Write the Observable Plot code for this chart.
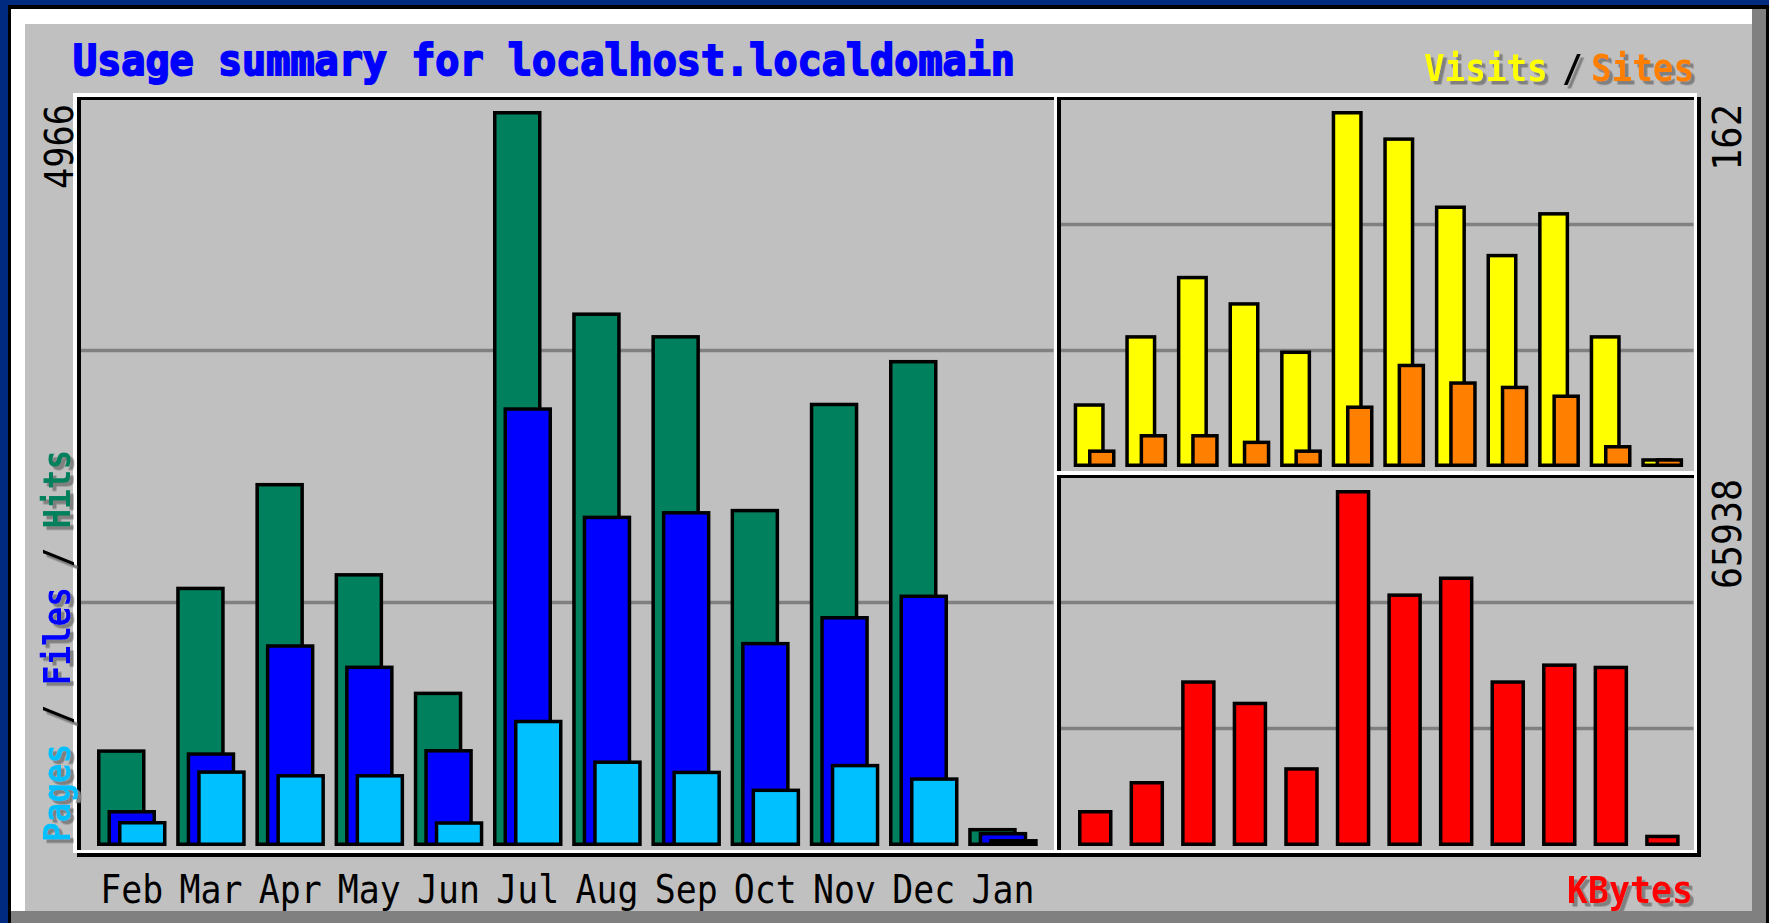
<!DOCTYPE html>
<html>
<head>
<meta charset="utf-8">
<script src="https://cdn.jsdelivr.net/npm/d3@7"></script>
<script src="https://cdn.jsdelivr.net/npm/@observablehq/plot@0.6"></script>
<style>
html, body { margin: 0; padding: 0; background: #002a80; }
#stage { position: relative; width: 1769px; height: 923px; overflow: hidden; background: #002a80; }
#stage > * { position: absolute; }
</style>
</head>
<body>
<div id="stage"></div>
<script>
// ---------------- data ----------------
const months = ["Feb", "Mar", "Apr", "May", "Jun", "Jul", "Aug", "Sep", "Oct", "Nov", "Dec", "Jan"];
const hits   = [653, 1752, 2453, 1844, 1043, 4966, 3605, 3452, 2278, 2995, 3284, 122];
const files  = [243, 633, 1363, 1219, 655, 2964, 2232, 2263, 1379, 1554, 1699, 95];
const pages  = [169, 511, 486, 486, 167, 853, 578, 509, 388, 555, 464, 47];
const visits = [29, 60, 87, 75, 53, 162, 150, 119, 97, 116, 60, 4];
const sites  = [8, 15, 15, 12, 8, 28, 47, 39, 37, 33, 10, 4];
const kbytes = [6668, 12039, 30690, 26727, 14595, 65938, 46786, 49917, 30690, 33821, 33395, 2093];
const gridTicks = [1, 2];

const titleText = "Usage summary for localhost.localdomain";

// ---------------- styling ----------------
const C = {
  hits: "#00805c", files: "#0000ff", pages: "#00c0ff",
  visits: "#ffff00", sites: "#ff8000", kbytes: "#ff0000",
  bg: "#c0c0c0", grid: "#808080", shadow: "#808080", dark: "#808080"
};
const W = 1769, H = 923;
const stage = document.getElementById("stage");
const table = months.map((m, i) => ({
  month: m, hits: hits[i], files: files[i], pages: pages[i],
  visits: visits[i], sites: sites[i], kbytes: kbytes[i]
}));

function box(x, y, w, h, color) {
  const d = document.createElement("div");
  d.style.cssText = `left:${x}px;top:${y}px;width:${w}px;height:${h}px;background:${color};`;
  stage.appendChild(d);
}
function addSvg(svg) {
  svg.style.position = "absolute";
  svg.style.left = "0px";
  svg.style.top = "0px";
  svg.style.maxWidth = "none";
  stage.appendChild(svg);
  return svg;
}

// ---------------- window bevel ----------------
box(8, 5, W - 8, H - 5, "#000");
box(11, 9, W - 14, H - 9, C.dark);
box(11, 9, 1741, 15, "#fff");
box(11, 9, 14, 902, "#fff");
box(25, 24, 1727, 887, C.bg);

// ---------------- grid lines (thirds of each panel) ----------------
function gridPlot(x0, x1, yTop, yBottom) {
  return Plot.plot({
    width: W, height: H,
    marginLeft: x0, marginRight: W - x1, marginTop: yTop, marginBottom: H - yBottom,
    style: {background: "transparent"},
    x: {axis: null},
    y: {domain: [0, 3], axis: null},
    marks: [Plot.ruleY(gridTicks, {stroke: C.grid, strokeWidth: 3.5})]
  });
}
addSvg(gridPlot(80.5, 1053.5, 98, 854));
addSvg(gridPlot(1060.5, 1693.5, 98, 476));
addSvg(gridPlot(1060.5, 1693.5, 476, 854));

// ---------------- panel frames ----------------
const T = 3.5;
// black
box(77, 96.5, 1623.5, T, "#000");
box(77, 853, 1623.5, T, "#000");
box(77, 96.5, T, 760, "#000");
box(1697, 96.5, T, 760, "#000");
box(1057, 96.5, T, 760, "#000");
box(1057, 474.5, 643.5, T, "#000");
// white
box(73, 93, 1624, T, "#fff");
box(73, 849.5, 1624, T, "#fff");
box(73, 93, T, 760, "#fff");
box(1693.5, 93, T, 760, "#fff");
box(1053.5, 93, T, 760, "#fff");
box(1053.5, 471, 643.5, T, "#fff");

// ---------------- bars ----------------
const barStyle = {stroke: "#000", strokeWidth: 3.5, inset: 1.75};

// main panel: hits / files / pages
const mainPad = 0.3876, mainStep = 79.2, mainX0 = 97;
const mainPlot = Plot.plot({
  width: W, height: H,
  marginTop: 0, marginLeft: 0, marginRight: 0, marginBottom: H - 875,
  style: {background: "transparent", color: "#000", overflow: "visible"},
  x: {type: "band", domain: months, range: [mainX0, mainX0 + mainStep * (months.length - mainPad)],
      paddingInner: mainPad, paddingOuter: 0, align: 0, round: false},
  y: {domain: [0, d3.max(hits)], range: [846, 111], axis: null},
  marks: [
    Plot.barY(table, {x: "month", y: "hits", fill: C.hits, ...barStyle}),
    Plot.barY(table, {x: "month", y: "files", fill: C.files, ...barStyle, dx: 10.5}),
    Plot.barY(table, {x: "month", y: "pages", fill: C.pages, ...barStyle, dx: 21}),
    Plot.axisX({anchor: "bottom", tickSize: 0, tickPadding: 0, label: null,
                fontSize: 38.4, fontFamily: "DejaVu Sans Mono", dx: 10})
  ]
});
mainPlot.querySelectorAll("text").forEach(t => {
  t.setAttribute("textLength", 63);
  t.setAttribute("lengthAdjust", "spacingAndGlyphs");
  t.setAttribute("font-family", "DejaVu Sans Mono");
});
addSvg(mainPlot);

// visits / sites panel
const vPad = 0.399, vStep = 51.6, vX0 = 1073.7;
addSvg(Plot.plot({
  width: W, height: H, margin: 0,
  style: {background: "transparent", overflow: "visible"},
  x: {type: "band", domain: months, range: [vX0, vX0 + vStep * (months.length - vPad)],
      paddingInner: vPad, paddingOuter: 0, align: 0, round: false, axis: null},
  y: {domain: [0, d3.max(visits)], range: [467, 111], axis: null},
  marks: [
    Plot.barY(table, {x: "month", y: "visits", fill: C.visits, ...barStyle}),
    Plot.barY(table, {x: "month", y: "sites", fill: C.sites, stroke: "#000", strokeWidth: 3.5,
                      insetLeft: 1.75, insetTop: 1.75, insetBottom: 1.75, insetRight: 5.25, dx: 14.3})
  ]
}));

// kbytes panel
const kPad = 0.331, kStep = 51.56, kX0 = 1078;
addSvg(Plot.plot({
  width: W, height: H, margin: 0,
  style: {background: "transparent", overflow: "visible"},
  x: {type: "band", domain: months, range: [kX0, kX0 + kStep * (months.length - kPad)],
      paddingInner: kPad, paddingOuter: 0, align: 0, round: false, axis: null},
  y: {domain: [0, d3.max(kbytes)], range: [846, 490], axis: null},
  marks: [
    Plot.barY(table, {x: "month", y: "kbytes", fill: C.kbytes, ...barStyle})
  ]
}));

// ---------------- texts ----------------
const tsvg = d3.create("svg").attr("width", W).attr("height", H)
  .attr("font-family", "DejaVu Sans Mono");
const defs = tsvg.append("defs");
// hard grey drop shadow, one screen unit right and down (local axes differ when rotated)
defs.append("filter").attr("id", "shadowH").attr("x", "-10%").attr("y", "-20%").attr("width", "130%").attr("height", "150%")
  .append("feDropShadow").attr("dx", 3.5).attr("dy", 3.5).attr("stdDeviation", 0)
  .attr("flood-color", C.shadow).attr("flood-opacity", 1);
defs.append("filter").attr("id", "shadowV").attr("x", "-10%").attr("y", "-20%").attr("width", "130%").attr("height", "150%")
  .append("feDropShadow").attr("dx", -3.5).attr("dy", 3.5).attr("stdDeviation", 0)
  .attr("flood-color", C.shadow).attr("flood-opacity", 1);

// monospaced label: each coloured part is its own text element, placed on a character grid
// (a part may give its own cell position "at")
function label(opts) {
  const {tx, ty, rotate = 0, anchor = "start", size, len, cells, parts, shadow = false,
         weight = "normal", strokeW = 0} = opts;
  const total = cells || parts.reduce((s, p) => s + p.text.length, 0);
  const adv = len / total;
  const start = anchor === "end" ? -len : 0;
  const g = tsvg.append("g").attr("transform", `translate(${tx},${ty}) rotate(${rotate})`);
  let offset = 0;
  parts.forEach(p => {
    const lead = p.text.length - p.text.trimStart().length;
    const word = p.text.trim();
    const pos = p.at != null ? p.at : offset + lead;
    if (word) {
      const t = g.append("text")
        .attr("x", start + pos * adv)
        .attr("font-size", size)
        .attr("font-weight", weight)
        .attr("textLength", word.length * adv)
        .attr("lengthAdjust", "spacingAndGlyphs")
        .attr("fill", p.color)
        .text(word);
      if (strokeW) t.attr("stroke", p.color).attr("stroke-width", strokeW);
      if (shadow) t.attr("filter", rotate ? "url(#shadowV)" : "url(#shadowH)");
    }
    offset += p.text.length;
  });
}

label({tx: 73, ty: 75, size: 43, len: 942, weight: "bold", strokeW: 2,
       parts: [{text: titleText, color: "#0000ff"}]});
label({tx: 1694, ty: 80.5, anchor: "end", size: 37.7, len: 270, cells: 13.1, weight: "bold", shadow: true,
       parts: [{text: "Visits", color: C.visits, at: 0}, {text: "/", color: "#000", at: 6.7},
               {text: "Sites", color: C.sites, at: 8.1}]});
label({tx: 1693, ty: 903, anchor: "end", size: 37.7, len: 126, weight: "bold", shadow: true,
       parts: [{text: "KBytes", color: C.kbytes}]});
label({tx: 70, ty: 842, rotate: -90, size: 37.7, len: 392, weight: "bold", shadow: true,
       parts: [{text: "Pages", color: C.pages}, {text: " / ", color: "#000"}, {text: "Files", color: C.files},
               {text: " / ", color: "#000"}, {text: "Hits", color: C.hits}]});
label({tx: 73, ty: 104, rotate: -90, anchor: "end", size: 38.4, len: 85,
       parts: [{text: String(d3.max(hits)), color: "#000"}]});
label({tx: 1741, ty: 104, rotate: -90, anchor: "end", size: 38.4, len: 67,
       parts: [{text: String(d3.max(visits)), color: "#000"}]});
label({tx: 1741, ty: 479, rotate: -90, anchor: "end", size: 38.4, len: 110,
       parts: [{text: String(d3.max(kbytes)), color: "#000"}]});
addSvg(tsvg.node());
</script>
</body>
</html>
